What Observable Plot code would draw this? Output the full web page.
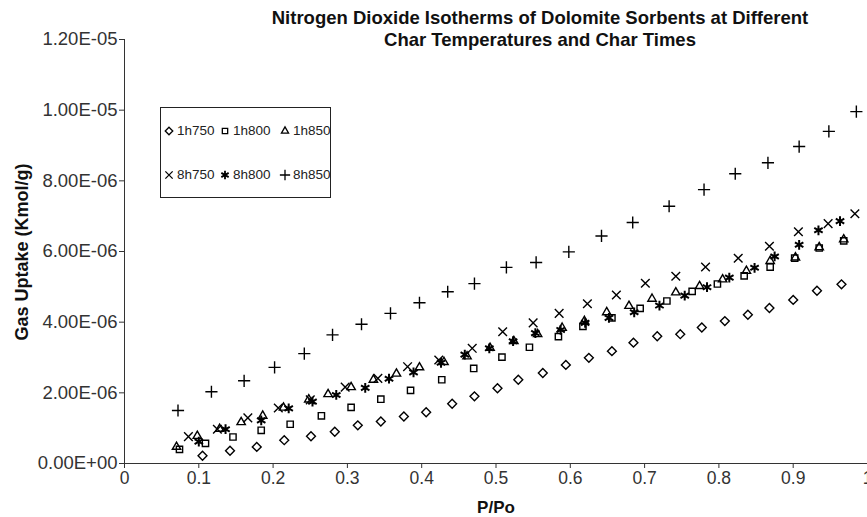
<!DOCTYPE html>
<html>
<head>
<meta charset="utf-8">
<script src="https://cdn.jsdelivr.net/npm/d3@7"></script>
<script src="https://cdn.jsdelivr.net/npm/@observablehq/plot@0.6"></script>
<style>
  body { margin: 0; background: #fff; font-family: "Liberation Sans", Arial, sans-serif; }
  #wrap { position: relative; width: 867px; height: 517px; overflow: hidden; }
  #chart { position: absolute; left: 0; top: 0; }
  #title { position: absolute; left: 190px; width: 700px; top: 7px; text-align: center;
           font-weight: bold; font-size: 18.5px; line-height: 22px; color: #111; }
  #ylab { position: absolute; left: 22px; top: 252px; transform: translate(-50%, -50%) rotate(-90deg);
          white-space: nowrap; font-weight: bold; font-size: 18px; color: #111; }
  #xlab { position: absolute; left: 496px; top: 508px; transform: translate(-50%, -50%);
          font-weight: bold; font-size: 17px; color: #111; }
  #legend { position: absolute; left: 160px; top: 107px; width: 171px; height: 91px;
            border: 1px solid #222; box-sizing: border-box; background: #fff; }
  .item { position: absolute; height: 16px; line-height: 16px; font-size: 13.5px; color: #222;
          display: flex; align-items: center; white-space: nowrap; }
  .item svg { width: 12px; height: 12px; margin-right: 2px; overflow: visible; }
  g[aria-label^="y-axis"] text { font-size: 18.5px; }
</style>
</head>
<body>
<div id="wrap">
  <div id="chart"></div>
  <div id="title">Nitrogen Dioxide Isotherms of Dolomite Sorbents at Different<br>Char Temperatures and Char Times</div>
  <div id="ylab">Gas Uptake (Kmol/g)</div>
  <div id="xlab">P/Po</div>
  <div id="legend"></div>
</div>
<script>
// ---- data (y values in units of 1e-6 Kmol/g) ----
const series = ["1h750", "1h800", "1h850", "8h750", "8h800", "8h850"];
const symbols = ["diamond2", "square2", "triangle2", "times", "asterisk", "plus"];

const x1h750 = [0.105,0.142,0.178,0.215,0.251,0.283,0.314,0.345,0.376,0.406,0.441,0.471,0.502,0.530,0.563,0.594,0.625,0.656,0.685,0.717,0.748,0.777,0.808,0.839,0.868,0.900,0.932,0.965];
const y1h750 = [0.22,0.36,0.47,0.66,0.77,0.90,1.08,1.19,1.33,1.45,1.69,1.90,2.13,2.37,2.56,2.79,2.99,3.18,3.42,3.60,3.66,3.85,4.03,4.21,4.40,4.63,4.89,5.07];

const x1h800 = [0.074,0.109,0.146,0.184,0.223,0.265,0.305,0.345,0.385,0.427,0.470,0.508,0.545,0.584,0.617,0.656,0.694,0.730,0.764,0.798,0.834,0.869,0.902,0.935,0.968];
const y1h800 = [0.40,0.57,0.75,0.94,1.11,1.35,1.59,1.82,2.07,2.37,2.69,3.01,3.29,3.59,3.88,4.12,4.39,4.60,4.87,5.08,5.31,5.56,5.81,6.10,6.30];

const x1h850 = [0.070,0.098,0.128,0.157,0.186,0.214,0.248,0.274,0.305,0.335,0.366,0.397,0.430,0.461,0.492,0.524,0.556,0.589,0.619,0.649,0.679,0.710,0.742,0.774,0.805,0.837,0.869,0.903,0.935,0.968];
const y1h850 = [0.47,0.78,0.98,1.17,1.35,1.58,1.81,1.96,2.16,2.37,2.54,2.72,2.87,3.03,3.27,3.46,3.66,3.84,4.03,4.28,4.46,4.66,4.84,5.02,5.21,5.45,5.73,5.83,6.12,6.34];

const x8h750 = [0.086,0.125,0.166,0.207,0.250,0.297,0.341,0.381,0.423,0.468,0.509,0.550,0.585,0.623,0.662,0.701,0.742,0.782,0.826,0.868,0.907,0.947,0.983];
const y8h750 = [0.76,0.97,1.29,1.57,1.80,2.16,2.41,2.74,2.93,3.26,3.73,3.98,4.25,4.52,4.77,5.10,5.30,5.56,5.81,6.15,6.56,6.79,7.07];

const x8h800 = [0.100,0.136,0.184,0.221,0.253,0.285,0.324,0.356,0.389,0.426,0.458,0.491,0.523,0.553,0.587,0.620,0.652,0.686,0.720,0.754,0.784,0.814,0.848,0.875,0.908,0.934,0.963];
const y8h800 = [0.62,0.97,1.22,1.56,1.75,1.94,2.14,2.40,2.58,2.85,3.08,3.26,3.46,3.69,3.78,3.98,4.12,4.28,4.47,4.75,4.99,5.26,5.54,5.86,6.19,6.60,6.86];

const x8h850 = [0.072,0.117,0.161,0.202,0.242,0.280,0.319,0.358,0.397,0.435,0.471,0.514,0.554,0.598,0.642,0.684,0.733,0.780,0.822,0.866,0.908,0.948,0.985];
const y8h850 = [1.50,2.03,2.34,2.72,3.11,3.64,3.94,4.25,4.55,4.86,5.09,5.55,5.69,5.99,6.44,6.82,7.28,7.75,8.20,8.51,8.97,9.40,9.96];

const xTicks = [0, 0.1, 0.2, 0.3, 0.4, 0.5, 0.6, 0.7, 0.8, 0.9, 1];
const yTicks = [0, 2e-6, 4e-6, 6e-6, 8e-6, 1e-5, 1.2e-5];

// ---- build table ----
const X = [x1h750, x1h800, x1h850, x8h750, x8h800, x8h850];
const Y = [y1h750, y1h800, y1h850, y8h750, y8h800, y8h850];
const table = series.flatMap((s, i) => X[i].map((x, j) => ({series: s, x, y: Y[i][j] * 1e-6})));

function sci(d) {
  if (d === 0) return "0.00E+00";
  const e = Math.floor(Math.log10(Math.abs(d)) + 1e-9);
  const m = d / Math.pow(10, e);
  return m.toFixed(2) + "E" + (e < 0 ? "-" : "+") + String(Math.abs(e)).padStart(2, "0");
}

const R = 4;
const chart = Plot.plot({
  width: 867,
  height: 517,
  marginLeft: 124,
  marginRight: 0,
  marginTop: 39,
  marginBottom: 54,
  style: {fontFamily: "Liberation Sans, Arial, sans-serif", fontSize: "17.5px", color: "#333", background: "#fff", overflow: "visible"},
  x: {domain: [0, 1], ticks: xTicks, tickFormat: d => String(d), tickSize: 5, tickPadding: 3, line: true, label: null},
  y: {domain: [0, 1.2e-5], ticks: yTicks, tickFormat: sci, tickSize: 5, tickPadding: 2, line: true, label: null},
  symbol: {domain: series, range: symbols},
  marks: [
    Plot.dot(table.filter(d => d.series !== "8h800"), {x: "x", y: "y", symbol: "series", stroke: "black", fill: "none", r: R, strokeWidth: 1.4}),
    Plot.dot(table.filter(d => d.series === "8h800"), {x: "x", y: "y", symbol: "series", stroke: "black", fill: "none", r: 4.6, strokeWidth: 2})
  ]
});
document.getElementById("chart").appendChild(chart);

// ---- legend ----
const d3sym = {diamond2: d3.symbolDiamond2, square2: d3.symbolSquare2, triangle2: d3.symbolTriangle2,
               times: d3.symbolTimes, asterisk: d3.symbolAsterisk, plus: d3.symbolPlus};
const legend = document.getElementById("legend");
const colCenters = [8, 64, 124];   // relative to legend box
const rowCenters = [23, 67];
series.forEach((s, i) => {
  const row = Math.floor(i / 3), col = i % 3;
  const div = document.createElement("div");
  div.className = "item";
  div.style.left = (colCenters[col] - 6) + "px";
  div.style.top = (rowCenters[row] - 8) + "px";
  const svg = d3.create("svg").attr("viewBox", "-6 -6 12 12");
  const rr = s === "8h800" ? 4 : 3.4;
  svg.append("path")
    .attr("d", d3.symbol(d3sym[symbols[i]], rr * rr * Math.PI)())
    .attr("fill", "none").attr("stroke", "black").attr("stroke-width", s === "8h800" ? 1.8 : 1.3);
  div.appendChild(svg.node());
  const t = document.createElement("span");
  t.textContent = s;
  div.appendChild(t);
  legend.appendChild(div);
});
</script>
</body>
</html>
